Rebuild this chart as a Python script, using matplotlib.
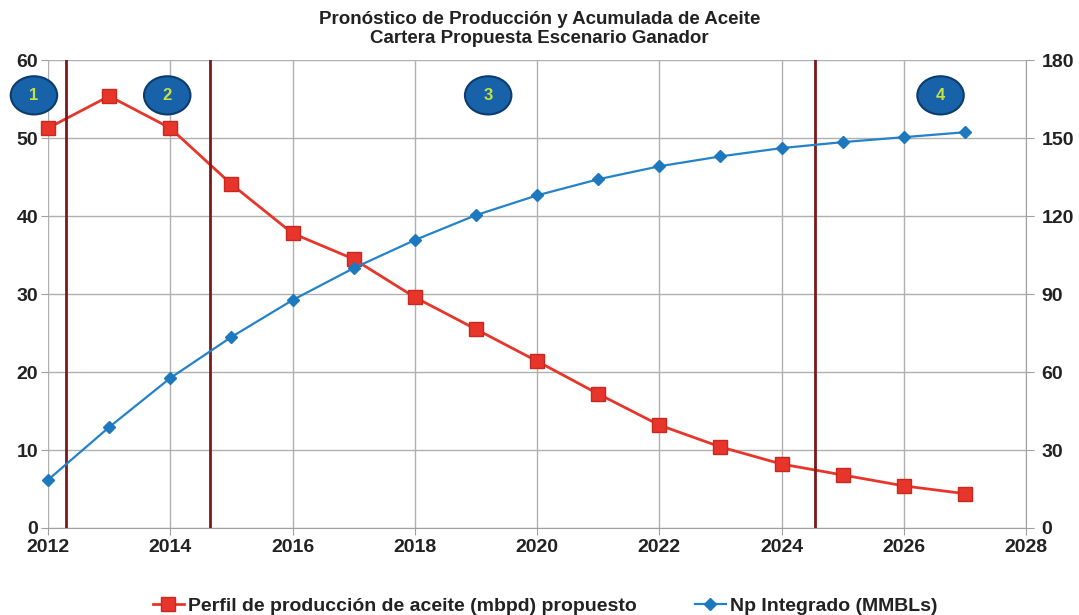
import numpy as np
import matplotlib
matplotlib.use('Agg')
import matplotlib.pyplot as plt
from matplotlib.patches import Ellipse

#======================================================================
#                           data
#======================================================================
years = [2012, 2013, 2014, 2015, 2016, 2017, 2018, 2019,
         2020, 2021, 2022, 2023, 2024, 2025, 2026, 2027]
produccion = [51.3, 55.4, 51.3, 44.1, 37.8, 34.5, 29.6, 25.5,
              21.4, 17.2, 13.2, 10.4, 8.2, 6.8, 5.4, 4.4]
np_integrado = [18.5, 38.8, 57.7, 73.5, 87.7, 100.0, 110.8, 120.4,
                128.0, 134.2, 139.2, 143.0, 146.2, 148.5, 150.4, 152.3]
etapas_x = [2012.3, 2014.65, 2024.55]
etiquetas = ['1', '2', '3', '4']
etiquetas_x = [2011.77, 2013.95, 2019.2, 2026.6]
etiquetas_y = [55.5, 55.5, 55.5, 55.5]

plt.rcParams['font.family'] = ['Liberation Sans', 'DejaVu Sans']

fig = plt.figure(figsize=(10.79, 6.15), dpi=100)
ax = fig.add_axes([0.0445, 0.1415, 0.9065, 0.7605])
ax2 = ax.twinx()

red = '#E8352B'
blue = '#2382C8'

l1, = ax.plot(years, produccion, '-s', color=red, lw=2.0, ms=10,
              mfc=red, mec='#C8281E', clip_on=False,
              label='Perfil de producción de aceite (mbpd) propuesto')
l2, = ax2.plot(years, np_integrado, '-D', color=blue, lw=1.6, ms=6,
               mfc='#1E78BE', mec='#1E78BE', clip_on=False,
               label='Np Integrado (MMBLs)')

for xv in etapas_x:
    ax.axvline(xv, color='#7A1A1A', lw=2.0, zorder=3)

#--------------------------------------------------------------
ax.set_xlim(2012, 2028)
ax.set_ylim(0, 60)
ax2.set_ylim(0, 180)
ax.set_xticks(np.arange(2012, 2029, 2))
ax.set_yticks(np.arange(0, 61, 10))
ax2.set_yticks(np.arange(0, 181, 30))
ax.grid(True, color='#B0B0B0', lw=1.0)
ax.set_axisbelow(True)

for a in (ax, ax2):
    for s in a.spines.values():
        s.set_visible(False)
ax.spines['bottom'].set_visible(True)
ax.spines['bottom'].set_color('#A0A0A0')
ax2.spines['right'].set_visible(True)
ax2.spines['right'].set_color('#A0A0A0')

ax.tick_params(axis='both', length=5, color='#A0A0A0', labelsize=14, pad=3)
ax.tick_params(axis='y', pad=2)
ax2.tick_params(axis='y', length=6, color='#A0A0A0', labelsize=14, pad=5)
for lab in ax.get_xticklabels() + ax.get_yticklabels() + ax2.get_yticklabels():
    lab.set_fontweight('bold')
    lab.set_color('#222222')

#--------------------------------------------------------------
#                   numbered stage markers
#--------------------------------------------------------------
for t, xc, yc in zip(etiquetas, etiquetas_x, etiquetas_y):
    e = Ellipse((xc, yc), width=0.76, height=4.9, facecolor='#1762A8',
                edgecolor='#0C3C6E', lw=1.5, zorder=5, clip_on=False)
    ax.add_patch(e)
    ax.text(xc, yc, t, ha='center', va='center', fontsize=12, fontweight='bold',
            color='#C8E040', zorder=6, clip_on=False)

fig.text(0.5, 0.982, 'Pronóstico de Producción y Acumulada de Aceite\nCartera Propuesta Escenario Ganador',
         ha='center', va='top', fontsize=13.5, fontweight='bold', color='#222222', linespacing=1.15)

lg = fig.legend(handles=[l1, l2], loc='lower center', bbox_to_anchor=(0.505, -0.028), ncol=2,
                frameon=False, fontsize=14, columnspacing=3.0, handlelength=1.6, handletextpad=0.2)
for txt in lg.get_texts():
    txt.set_fontweight('bold')
    txt.set_color('#222222')

fig.savefig('out.png', dpi=100)
